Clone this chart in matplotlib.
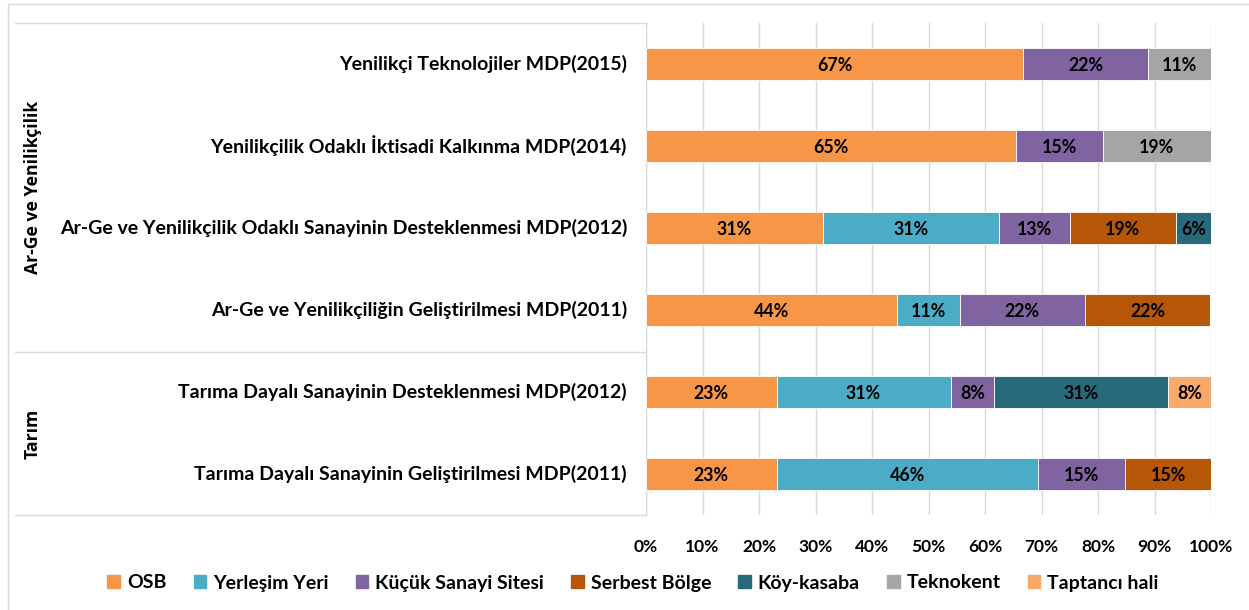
import numpy as np
import matplotlib
matplotlib.use('Agg')
import matplotlib.pyplot as plt
from matplotlib.patches import Rectangle
from matplotlib.lines import Line2D

# ---- data (percent shares, rows from top to bottom) ----
programs = ['Yenilikçi Teknolojiler MDP(2015)',
            'Yenilikçilik Odaklı İktisadi Kalkınma MDP(2014)',
            'Ar-Ge ve Yenilikçilik Odaklı Sanayinin Desteklenmesi MDP(2012)',
            'Ar-Ge ve Yenilikçiliğin Geliştirilmesi MDP(2011)',
            'Tarıma Dayalı Sanayinin Desteklenmesi MDP(2012)',
            'Tarıma Dayalı Sanayinin Geliştirilmesi MDP(2011)']
groups = ['Ar-Ge ve Yenilikçilik', 'Tarım']

series_names = ['OSB', 'Yerleşim Yeri', 'Küçük Sanayi Sitesi', 'Serbest Bölge',
                'Köy-kasaba', 'Teknokent', 'Taptancı hali']
osb       = [66.7, 65.4, 31.25, 44.4, 23.1, 23.1]
yerlesim  = [0, 0, 31.25, 11.1, 30.8, 46.2]
kucuk     = [22.2, 15.4, 12.5, 22.2, 7.7, 15.4]
serbest   = [0, 0, 18.75, 22.2, 0, 15.4]
koy       = [0, 0, 6.25, 0, 30.8, 0]
teknokent = [11.1, 19.2, 0, 0, 0, 0]
taptanci  = [0, 0, 0, 0, 7.7, 0]
series = [osb, yerlesim, kucuk, serbest, koy, teknokent, taptanci]
colors = ['#F79646', '#4BACC6', '#8064A2', '#B65708', '#276A7C', '#A5A5A5', '#F9A96A']
xticks = np.arange(0, 101, 10)

FONT = ['Lato', 'DejaVu Sans']
plt.rcParams['font.family'] = FONT

fig = plt.figure(figsize=(12.49, 6.10), dpi=100)
W, H = 1249.0, 610.0
ax = fig.add_axes([646/W, 1-515/H, (1211-646)/W, (515-23)/H])

n = len(programs)
ypos = np.arange(n)[::-1]
left = np.zeros(n)
for vals, c, name in zip(series, colors, series_names):
    vals = np.array(vals, dtype=float)
    ax.barh(ypos, vals, left=left, height=0.4, color=c, edgecolor='white',
            linewidth=0.6, label=name, zorder=3)
    for y, l, v in zip(ypos, left, vals):
        if v > 0:
            ax.text(l + v/2, y - 0.02, '%d%%' % int(v + 0.5), ha='center', va='center',
                    fontsize=12.8, fontweight='bold', color='black', zorder=4)
    left += vals

ax.set_xlim(0, 100)
ax.set_ylim(-0.5, n - 0.5)
ax.set_xticks(xticks)
ax.set_xticklabels(['%d%%' % t for t in xticks], fontsize=12.5, fontweight='bold')
ax.tick_params(axis='x', length=0, pad=17)
ax.set_yticks([])
ax.grid(axis='x', color='#D9D9D9', linewidth=1, zorder=0)
for s in ['top', 'right', 'bottom']:
    ax.spines[s].set_visible(False)
ax.spines['left'].set_color('#D9D9D9')

# category labels
for y, p in zip(ypos, programs):
    ax.text(-19/565*100, y, p, ha='right', va='center', fontsize=14.0,
            fontweight='bold', clip_on=False)

# group boxes / labels on the left
def fy(py):
    return 1 - py/H
bounds_y = [23, 352, 515]
for py in bounds_y:
    fig.add_artist(Line2D([15/W, 646/W], [fy(py), fy(py)], color='#D9D9D9', lw=1))
for g, (a, b) in zip(groups, zip(bounds_y[:-1], bounds_y[1:])):
    fig.text(33/W, fy((a+b)/2), g, rotation=90, ha='center', va='center',
             fontsize=12.7, fontweight='bold', family=['Open Sans', 'DejaVu Sans'])

# outer chart border
fig.add_artist(Rectangle((8/W, -0.05), 1.1, fy(4) + 0.05, fill=False,
                         edgecolor='#D9D9D9', lw=1))

handles = [Rectangle((0, 0), 1, 1, color=c) for c in colors]
fig.legend(handles, series_names, loc='center', bbox_to_anchor=(633/W, fy(583)),
           ncol=7, frameon=False, handlelength=0.65, handleheight=0.65,
           handletextpad=0.35, columnspacing=1.4,
           prop={'weight': 'bold', 'size': 14})

fig.savefig('out.png', dpi=100)
